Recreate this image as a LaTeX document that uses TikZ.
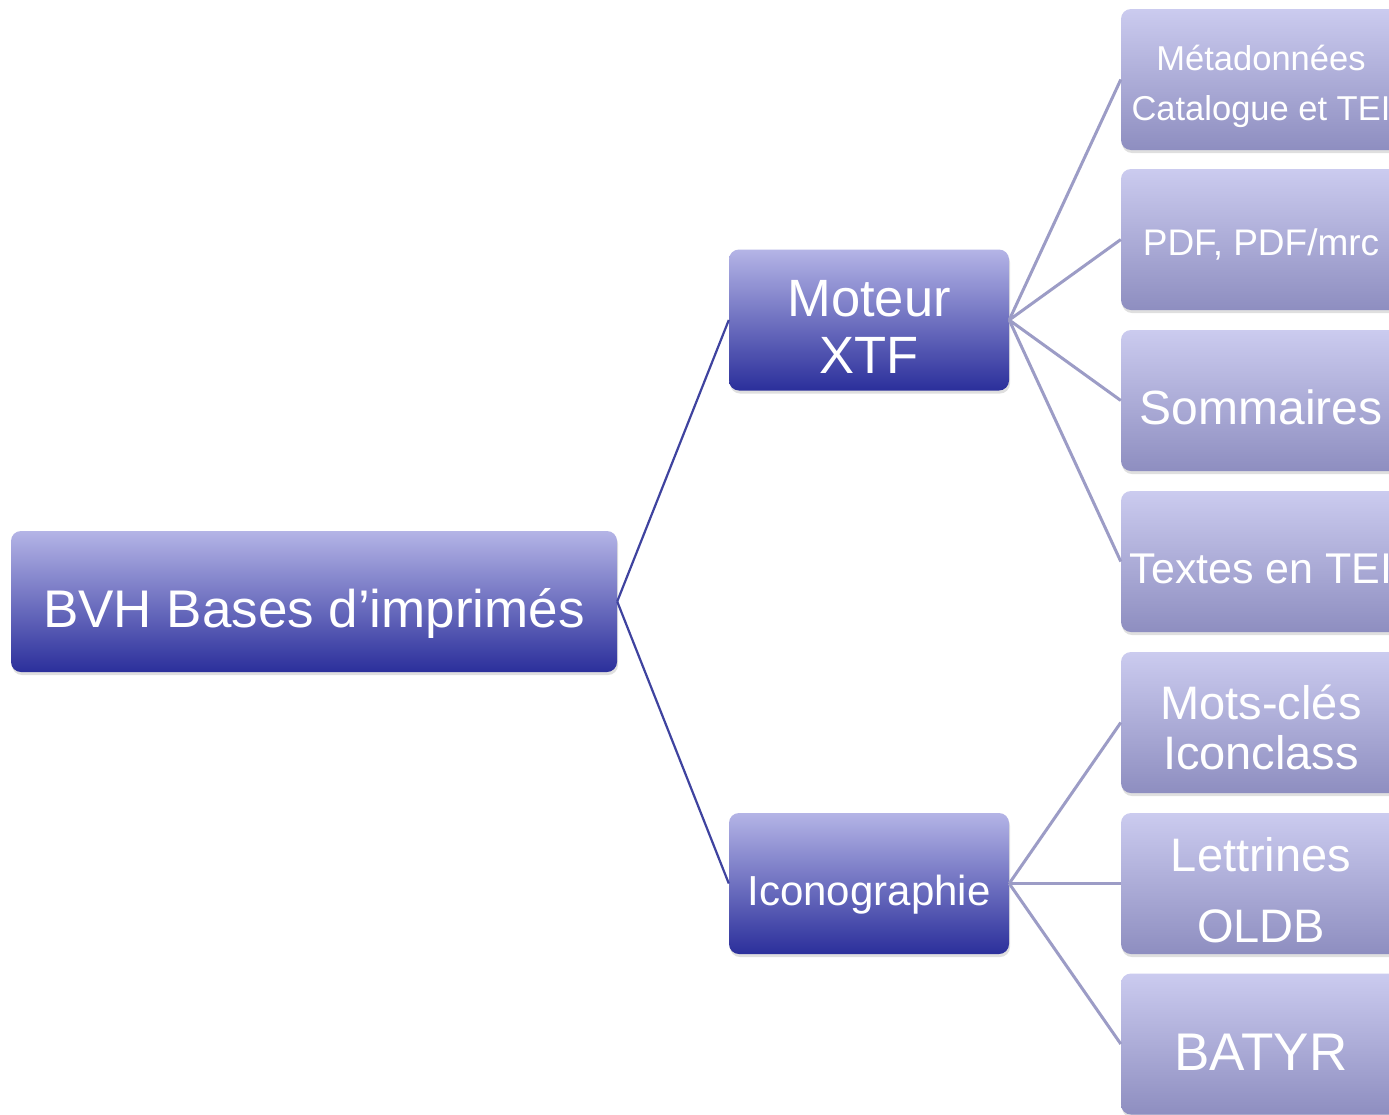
\documentclass[tikz,border=0pt]{standalone}
\usepackage{fontspec}
\setmainfont{Liberation Sans}
\usetikzlibrary{shadows}
\definecolor{darktop}{HTML}{B4B4E6}
\definecolor{darkbot}{HTML}{2B2F9B}
\definecolor{lighttop}{HTML}{CBCBEF}
\definecolor{lightbot}{HTML}{8E8EC0}
\definecolor{linkdark}{HTML}{3F439F}
\definecolor{linklight}{HTML}{9C9CC6}
\tikzset{
  box/.style={rounded corners=10pt, text=white, align=center, inner sep=0pt,
    drop shadow={opacity=0.25, shadow xshift=1pt, shadow yshift=-3pt}},
  mainbox/.style={box, top color=darktop, bottom color=darkbot, minimum height=141pt},
  leafbox/.style={box, top color=lighttop, bottom color=lightbot, minimum width=280pt, minimum height=141pt},
  linkA/.style={draw=linkdark, line width=2.2pt},
  linkB/.style={draw=linklight, line width=3pt},
  fs/.style 2 args={font=\fontsize{#1}{#2}\selectfont},
}
\begin{document}
\begin{tikzpicture}[x=1pt,y=-1pt]
\clip (0,0) rectangle (1389,1114);
\fill[white] (0,0) rectangle (1389,1114);
% main nodes
\node[mainbox, minimum width=606pt, fs={53}{60}, text height=51pt, text depth=0pt] (root) at (314,601.5) {BVH Bases d’imprimés};
\node[mainbox, minimum width=280pt, fs={52.5}{57}, text height=106pt, text depth=0pt] (xtf) at (869,320) {Moteur\\XTF};
\node[mainbox, minimum width=280pt, fs={42}{50}, text height=43pt, text depth=0pt] (icono) at (869,883.5) {Iconographie};
% leaves
\node[leafbox, fs={34.5}{50}, text height=81pt, text depth=0pt] (meta) at (1261,79.5) {Métadonnées\\Catalogue et TEI};
\node[leafbox, fs={37}{44}, text height=31pt, text depth=0pt] (pdf) at (1261,239.5) {PDF, PDF/mrc};
\node[leafbox, fs={48}{56}, text height=47pt, text depth=0pt] (somm) at (1261,400.5) {Sommaires};
\node[leafbox, fs={43}{50}, text height=43pt, text depth=0pt] (textes) at (1261,561.5) {Textes en TEI};
\node[leafbox, fs={47}{50}, text height=93pt, text depth=0pt] (mots) at (1261,722.5) {Mots-clés\\Iconclass};
\node[leafbox, fs={47}{71}, text height=117pt, text depth=0pt] (lettr) at (1261,883.5) {Lettrines\\OLDB};
\node[leafbox, fs={53}{60}, text height=52pt, text depth=0pt] (batyr) at (1261,1044) {BATYR};
% connectors
\path[linkA] (root.east) -- (xtf.west);
\path[linkA] (root.east) -- (icono.west);
\path[linkB] (xtf.east) -- (meta.west);
\path[linkB] (xtf.east) -- (pdf.west);
\path[linkB] (xtf.east) -- (somm.west);
\path[linkB] (xtf.east) -- (textes.west);
\path[linkB] (icono.east) -- (mots.west);
\path[linkB] (icono.east) -- (lettr.west);
\path[linkB] (icono.east) -- (batyr.west);
\end{tikzpicture}
\end{document}
